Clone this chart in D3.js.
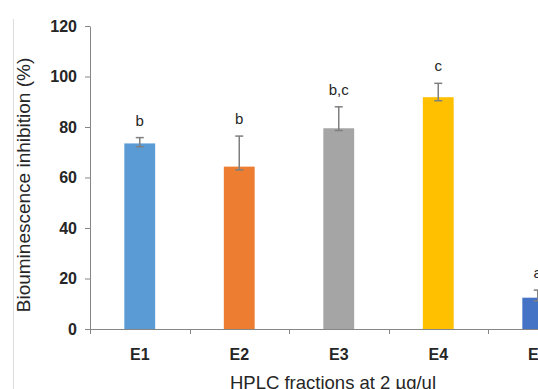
<!DOCTYPE html>
<html>
<head>
<meta charset="utf-8">
<script src="https://cdn.jsdelivr.net/npm/d3@7"></script>
<style>
  html, body { margin: 0; padding: 0; background: #fff; }
  svg { display: block; font-family: "Liberation Sans", Arial, sans-serif; }
</style>
</head>
<body>
<svg id="chart" width="538" height="389"></svg>
<script>
// Bioluminescence inhibition of HPLC fractions (mean, upper and lower error)
const categories = ["E1", "E2", "E3", "E4", "E5"];
const values     = [73.5, 64.3, 79.5, 91.8, 12.4];
const errUp      = [2.3, 12.1, 8.5, 5.5, 3.0];
const errDown    = [1.3, 1.3, 0.9, 1.4, 1.2];
const groups     = ["b", "b", "b,c", "c", "a"];
const colors     = ["#5B9BD5", "#ED7D31", "#A5A5A5", "#FFC000", "#4472C4"];
const yTicks     = [0, 20, 40, 60, 80, 100, 120];
const yTitle     = "Biouminescence inhibition (%)";
const xTitle     = "HPLC fractions at 2 µg/ul";

(function draw() {
  const svg = d3.select("#chart");
  const W = 538, H = 389;
  const plotLeft = 90, plotTop = 26, plotBottom = 329, step = 99.5;

  const x = d3.scaleBand()
    .domain(categories)
    .range([plotLeft, plotLeft + step * categories.length])
    .paddingInner(0.69)
    .paddingOuter(0.345);

  const y = d3.scaleLinear().domain([0, 120]).range([plotBottom, plotTop]);

  // faint frame line on the far left
  svg.append("line")
    .attr("x1", 13.5).attr("x2", 13.5).attr("y1", 19).attr("y2", H)
    .attr("stroke", "#dcdcdc").attr("stroke-width", 1);

  // bars
  svg.append("g").selectAll("rect")
    .data(categories)
    .join("rect")
    .attr("x", d => x(d))
    .attr("width", x.bandwidth())
    .attr("y", (d, i) => y(values[i]))
    .attr("height", (d, i) => y(0) - y(values[i]))
    .attr("fill", (d, i) => colors[i]);

  // y axis
  const yAxis = svg.append("g")
    .attr("transform", `translate(${plotLeft},0)`)
    .call(d3.axisLeft(y).tickValues(yTicks).tickSize(5).tickSizeOuter(0).tickPadding(8));
  yAxis.select(".domain").attr("stroke", "#868686");
  yAxis.selectAll(".tick line").attr("stroke", "#868686");
  yAxis.selectAll(".tick text")
    .attr("font-size", 16).attr("font-weight", "bold").attr("fill", "#262626")
    .attr("font-family", "Liberation Sans, Arial, sans-serif");

  // x axis line with ticks on category boundaries
  const xg = svg.append("g");
  xg.append("line")
    .attr("x1", plotLeft).attr("x2", W).attr("y1", plotBottom + 0.5).attr("y2", plotBottom + 0.5)
    .attr("stroke", "#868686");
  const edges = categories.map((c, i) => plotLeft + i * x.step());
  xg.selectAll("line.tick")
    .data(edges)
    .join("line")
    .attr("class", "tick")
    .attr("x1", d => Math.round(d) + 0.5).attr("x2", d => Math.round(d) + 0.5)
    .attr("y1", plotBottom).attr("y2", plotBottom + 5)
    .attr("stroke", "#868686");

  const xAxis = svg.append("g")
    .attr("transform", `translate(0,${plotBottom})`)
    .call(d3.axisBottom(x).tickSize(0).tickPadding(20));
  xAxis.select(".domain").remove();
  xAxis.selectAll(".tick text")
    .attr("font-size", 16).attr("font-weight", "bold").attr("fill", "#262626")
    .attr("font-family", "Liberation Sans, Arial, sans-serif");

  // error bars
  const eb = svg.append("g").attr("stroke", "#7F7F7F").attr("stroke-width", 1.5);
  categories.forEach((c, i) => {
    const cx = x(c) + x.bandwidth() / 2;
    const y1 = y(values[i] + errUp[i]);
    const y2 = y(values[i] - errDown[i]);
    eb.append("line").attr("x1", cx).attr("x2", cx).attr("y1", y1).attr("y2", y2);
    eb.append("line").attr("x1", cx - 4).attr("x2", cx + 4).attr("y1", y1).attr("y2", y1);
    eb.append("line").attr("x1", cx - 4).attr("x2", cx + 4).attr("y1", y2).attr("y2", y2);
  });

  // significance group letters
  svg.append("g").selectAll("text")
    .data(categories)
    .join("text")
    .attr("x", d => x(d) + x.bandwidth() / 2)
    .attr("y", (d, i) => y(values[i] + errUp[i]) - 12)
    .attr("text-anchor", "middle")
    .attr("font-size", 15)
    .attr("fill", "#262626")
    .text((d, i) => groups[i]);

  // axis titles
  svg.append("text")
    .attr("transform", "translate(30,185) rotate(-90)")
    .attr("text-anchor", "middle")
    .attr("font-size", 19)
    .attr("fill", "#262626")
    .text(yTitle);

  svg.append("text")
    .attr("x", 333).attr("y", 389)
    .attr("text-anchor", "middle")
    .attr("font-size", 18.5)
    .attr("fill", "#262626")
    .text(xTitle);
})();
</script>
</body>
</html>
